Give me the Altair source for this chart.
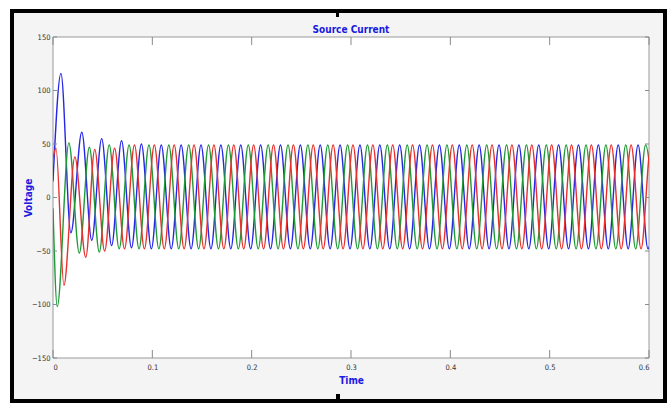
import altair as alt
import pandas as pd

# ---- values ----
# transient extremes (time s, value) for each phase
blue_t = [0.0, 0.008, 0.018, 0.029, 0.039, 0.049, 0.059, 0.069, 0.079, 0.089]
blue_v = [15, 116, -33, 61, -40, 55, -45, 53, -47, 50]
green_t = [0.0, 0.0043, 0.016, 0.0265, 0.0366, 0.0466]
green_v = [-10, -102, 51, -52, 47, -51]
red_t = [0.0, 0.003, 0.011, 0.022, 0.033, 0.042, 0.052, 0.062]
red_v = [36, 46, -82, 38, -56, 45, -50, 46]

# steady-state: read amplitude and half period, first steady extreme of each phase
steady_peak = 49
steady_trough = -48
half_period = 0.01
blue_steady = (0.099, "trough")
green_steady = (0.0566, "peak")
red_steady = (0.072, "trough")
t_stop = 0.615

x_ticks = [0, 0.1, 0.2, 0.3, 0.4, 0.5, 0.6]
y_ticks = [-150, -100, -50, 0, 50, 100, 150]
title_text = "Source Current"

phases = ["A", "B", "C"]
colors = ["#2626e6", "#1f9a36", "#e8302c"]

rows = []
for name, ts, vs, (t0, kind) in [
    ("A", blue_t, blue_v, blue_steady),
    ("B", green_t, green_v, green_steady),
    ("C", red_t, red_v, red_steady),
]:
    for t, v in zip(ts, vs):
        rows.append({"phase": name, "t": t, "v": v})
    t = t0
    is_peak = kind == "peak"
    while t <= t_stop:
        rows.append({"phase": name, "t": round(t, 4), "v": steady_peak if is_peak else steady_trough})
        is_peak = not is_peak
        t += half_period
df = pd.DataFrame(rows)

W, H = 596, 321
FONT = "'Liberation Sans Narrow', 'DejaVu Sans Condensed', 'Liberation Sans', sans-serif"
BLUE = "#1a1ae0"

xscale = alt.Scale(domain=[0, 0.6], nice=False, zero=False)
yscale = alt.Scale(domain=[-150, 150], nice=False)
xaxis = alt.Axis(values=x_ticks, format="~g", title="Time", domain=False, ticks=False, grid=False,
                 labelFontSize=7.5, labelColor="#333333", labelPadding=5, labelFont=FONT,
                 titleFont=FONT, titleFontSize=10, titleColor=BLUE, titleFontWeight="bold",
                 titlePadding=5, zindex=1)
yaxis = alt.Axis(values=y_ticks, format="d", title="Voltage", domain=False, ticks=False, grid=False,
                 labelFontSize=7.5, labelColor="#333333", labelPadding=3, labelFont=FONT,
                 titleFont=FONT, titleFontSize=10, titleColor=BLUE, titleFontWeight="bold",
                 titleX=-25, titleY=H / 2, titleAngle=270, titleAlign="center",
                 titleBaseline="middle", zindex=1)

one = alt.Data(values=[{}])

frame = alt.Chart(one).mark_rect(fill="#f4f4f4", stroke="black", strokeWidth=4).encode(
    x=alt.value(-41), x2=alt.value(612), y=alt.value(-26), y2=alt.value(364))
marks_top = alt.Chart(one).mark_rect(fill="black").encode(
    x=alt.value(283), x2=alt.value(286), y=alt.value(-24), y2=alt.value(-20))
marks_bot = alt.Chart(one).mark_rect(fill="black").encode(
    x=alt.value(283), x2=alt.value(287), y=alt.value(357), y2=alt.value(362))
plotbg = alt.Chart(one).mark_rect(fill="white", stroke="#9a9a9a", strokeWidth=1).encode(
    x=alt.value(0), x2=alt.value(W), y=alt.value(0), y2=alt.value(H))
title = alt.Chart(alt.Data(values=[{"label": title_text}])).mark_text(
    font=FONT, fontSize=10, fontWeight="bold", color=BLUE, align="center", baseline="middle"
).encode(x=alt.value(W / 2), y=alt.value(-7), text="label:N")

lines = alt.Chart(df).mark_line(interpolate="monotone", clip=True, strokeWidth=1.4).encode(
    x=alt.X("t:Q", scale=xscale, axis=xaxis),
    y=alt.Y("v:Q", scale=yscale, axis=yaxis),
    color=alt.Color("phase:N", scale=alt.Scale(domain=phases, range=colors), legend=None),
    order="t:Q",
)

xt = pd.DataFrame({"x": x_ticks})
yt = pd.DataFrame({"y": y_ticks})
tick_col = "#8a8a8a"
xb = alt.Chart(xt).mark_rule(color=tick_col).encode(
    x=alt.X("x:Q", scale=xscale, axis=xaxis), y=alt.value(H), y2=alt.value(H - 8))
xtop = alt.Chart(xt).mark_rule(color=tick_col).encode(
    x=alt.X("x:Q", scale=xscale, axis=xaxis), y=alt.value(0), y2=alt.value(8))
yl = alt.Chart(yt).mark_rule(color=tick_col).encode(
    y=alt.Y("y:Q", scale=yscale, axis=yaxis), x=alt.value(0), x2=alt.value(4))
yr = alt.Chart(yt).mark_rule(color=tick_col).encode(
    y=alt.Y("y:Q", scale=yscale, axis=yaxis), x=alt.value(W), x2=alt.value(W - 4))

chart = alt.layer(frame, marks_top, marks_bot, plotbg, title, lines, xb, xtop, yl, yr).properties(
    width=W, height=H,
    padding={"left": 53, "top": 37, "right": 23, "bottom": 45},
    autosize=alt.AutoSizeParams(type="none"),
).configure(background="white").configure_view(strokeWidth=0)

chart.save("out.html", embed_options={"renderer": "svg", "actions": False})
